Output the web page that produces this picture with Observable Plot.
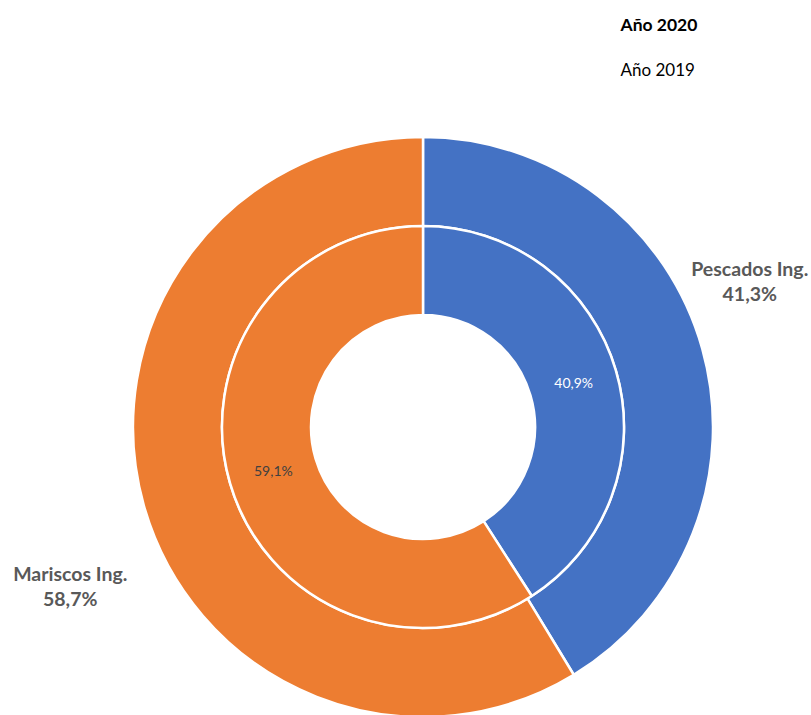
<!DOCTYPE html>
<html><head><meta charset="utf-8">
<script src="https://cdn.jsdelivr.net/npm/d3@7"></script>
<script src="https://cdn.jsdelivr.net/npm/@observablehq/plot@0.6"></script>
<style>body{margin:0;background:#fff;} #chart{width:811px;height:715px;overflow:hidden}</style>
</head><body><div id="chart"></div>
<script>
// Data
const categories = ["Pescados Ing.", "Mariscos Ing."];
const years = ["Año 2020", "Año 2019"];
const values2020 = [41.3, 58.7];   // outer ring
const values2019 = [40.9, 59.1];   // inner ring
const colors = ["#4472C4", "#ED7D31"];

// Layout (pixels)
const W = 811, H = 715;
const CX = 423, CY = 427;
const R_HOLE = 112, R_MID = 201, R_OUT = 290;
const FONT = "Lato, 'Open Sans', sans-serif";

const fmt = v => v.toFixed(1).replace(".", ",") + "%";
const pie = d3.pie().sort(null).value(d => d);

function ring(values, r0, r1) {
  return (index, scales) => {
    const arc = d3.arc().innerRadius(r0).outerRadius(r1);
    const g = d3.create("svg:g")
      .attr("transform", `translate(${scales.x(CX)},${scales.y(CY)})`);
    g.selectAll("path").data(pie(values)).join("path")
      .attr("d", arc)
      .attr("fill", (d, i) => colors[i])
      .attr("stroke", "white")
      .attr("stroke-width", 2.5)
      .attr("stroke-linejoin", "round");
    return g.node();
  };
}

// inner-ring labels at centroid
const innerArc = d3.arc().innerRadius(R_HOLE).outerRadius(R_MID);
const innerLabels = pie(values2019).map((a, i) => {
  const [dx, dy] = innerArc.centroid(a);
  return {x: CX + dx, y: CY + dy, text: fmt(values2019[i]), i};
});

// outer labels along mid-angle, outside the ring
const outerArc = d3.arc().innerRadius(370).outerRadius(370);
const outerLabels = pie(values2020).map((a, i) => {
  const [dx, dy] = outerArc.centroid(a);
  return {x: CX + dx, y: CY + dy, text: categories[i] + "\n" + fmt(values2020[i]), i};
});

const legend = years.map((y, i) => ({text: y, i}));

const chart = Plot.plot({
  width: W, height: H,
  margin: 0,
  x: {domain: [0, W], range: [0, W], axis: null},
  y: {domain: [0, H], range: [0, H], axis: null},
  style: {background: "white", overflow: "hidden"},
  marks: [
    ring(values2020, R_MID, R_OUT),
    ring(values2019, R_HOLE, R_MID),
    Plot.text(innerLabels.filter(d => d.i === 0), {
      x: "x", y: "y", text: "text", fill: "#ffffff", fontSize: 14, fontFamily: FONT
    }),
    Plot.text(innerLabels.filter(d => d.i === 1), {
      x: "x", y: "y", text: "text", fill: "#404040", fontSize: 14, fontFamily: FONT
    }),
    Plot.text(outerLabels.filter(d => d.i === 0), {
      x: "x", y: "y", text: "text", dx: -30, dy: -47,
      fill: "#595959", fontSize: 19.5, fontWeight: "bold", fontFamily: FONT, lineHeight: 1.28
    }),
    Plot.text(outerLabels.filter(d => d.i === 1), {
      x: "x", y: "y", text: "text", dx: 3, dy: 58,
      fill: "#595959", fontSize: 19.5, fontWeight: "bold", fontFamily: FONT, lineHeight: 1.28
    }),
    Plot.text(legend.filter(d => d.i === 0), {
      x: () => 620, y: () => 25, text: "text", textAnchor: "start",
      fill: "#000", fontSize: 17.5, fontWeight: "bold", fontFamily: FONT
    }),
    Plot.text(legend.filter(d => d.i === 1), {
      x: () => 620, y: () => 70, text: "text", textAnchor: "start",
      fill: "#000", fontSize: 17, fontFamily: FONT
    })
  ]
});
document.getElementById("chart").appendChild(chart);
</script>
</body></html>
